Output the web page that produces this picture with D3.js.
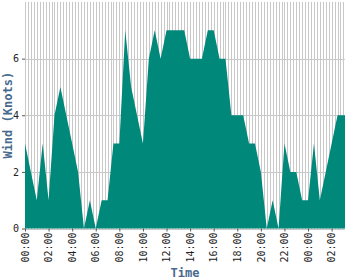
<!DOCTYPE html>
<html>
<head>
<meta charset="utf-8">
<script src="https://cdn.jsdelivr.net/npm/d3@7"></script>
<style>
  body { margin: 0; background: #fff; }
  .tick text { font-family: "DejaVu Sans Mono", monospace; font-size: 10px; fill: #222; }
  .tick line { stroke: #555; }
  .grid line { stroke: #c8c8c8; stroke-width: 1; shape-rendering: crispEdges; }
  .grid .domain { display: none; }
  .axis_title { font-family: "DejaVu Sans Mono", monospace; font-size: 12px; font-weight: bold; fill: #476a8e; }
</style>
</head>
<body>
<svg id="chart"></svg>
<script>
// half-hour readings starting 00:00, wind in knots
const times = [
  "00:00", "00:30", "01:00", "01:30", "02:00", "02:30", "03:00", "03:30",
  "04:00", "04:30", "05:00", "05:30", "06:00", "06:30", "07:00", "07:30",
  "08:00", "08:30", "09:00", "09:30", "10:00", "10:30", "11:00", "11:30",
  "12:00", "12:30", "13:00", "13:30", "14:00", "14:30", "15:00", "15:30",
  "16:00", "16:30", "17:00", "17:30", "18:00", "18:30", "19:00", "19:30",
  "20:00", "20:30", "21:00", "21:30", "22:00", "22:30", "23:00", "23:30",
  "24:00", "24:30", "25:00", "25:30", "26:00", "26:30", "27:00", "27:08"
];
const wind = [
  3, 2, 1, 3, 1, 4, 5, 4,
  3, 2, 0, 1, 0, 1, 1, 3,
  3, 7, 5, 4, 3, 6, 7, 6,
  7, 7, 7, 7, 6, 6, 6, 7,
  7, 6, 6, 4, 4, 4, 3, 3,
  2, 0, 1, 0, 3, 2, 2, 1,
  1, 3, 1, 2, 3, 4, 4, 4
];
const y_ticks = [0, 2, 4, 6];

const width = 350;
const height = 280;
const margin = { top: 2, right: 5, bottom: 51.5, left: 25 };

const base = new Date(2020, 0, 1, 0, 0);
const data = times.map(function (t, i) {
  const parts = t.split(":");
  return {
    time: new Date(base.getTime() + (+parts[0] * 60 + +parts[1]) * 60000),
    wind: wind[i],
  };
});

const svg = d3.select("#chart").attr("width", width).attr("height", height);

const x = d3
  .scaleTime()
  .domain(d3.extent(data, (d) => d.time))
  .range([margin.left, width - margin.right]);

const y = d3
  .scaleLinear()
  .domain([0, 8])
  .range([height - margin.bottom, margin.top]);

// vertical grid every 15 minutes
svg
  .append("g")
  .attr("class", "grid")
  .attr("transform", "translate(0," + (height - margin.bottom) + ")")
  .call(
    d3
      .axisBottom(x)
      .ticks(d3.timeMinute.every(15))
      .tickSize(-(height - margin.bottom - margin.top))
      .tickFormat("")
  );

// horizontal grid
svg
  .append("g")
  .attr("class", "grid")
  .attr("transform", "translate(" + margin.left + ",0)")
  .call(
    d3
      .axisLeft(y)
      .tickValues(y_ticks)
      .tickSize(-(width - margin.left - margin.right))
      .tickFormat("")
  );

// wind area
svg
  .append("path")
  .datum(data)
  .attr("fill", "#00897b")
  .attr(
    "d",
    d3
      .area()
      .x((d) => x(d.time))
      .y0(y(0))
      .y1((d) => y(d.wind))
  );

// x axis
const x_axis = svg
  .append("g")
  .attr("transform", "translate(0," + (height - margin.bottom) + ")")
  .call(
    d3
      .axisBottom(x)
      .ticks(d3.timeHour.every(2))
      .tickSize(3)
      .tickFormat(d3.timeFormat("%H:%M"))
  );
x_axis.select(".domain").remove();
x_axis
  .selectAll(".tick text")
  .attr("transform", "rotate(-90)")
  .attr("text-anchor", "end")
  .attr("x", -4)
  .attr("y", 0)
  .attr("dy", "0.32em");

// y axis
const y_axis = svg
  .append("g")
  .attr("transform", "translate(" + margin.left + ",0)")
  .call(d3.axisLeft(y).tickValues(y_ticks).tickSize(3));
y_axis.select(".domain").remove();

// axis titles
svg
  .append("text")
  .attr("class", "axis_title")
  .attr("text-anchor", "middle")
  .attr("x", (margin.left + width - margin.right) / 2)
  .attr("y", height - 3)
  .text("Time");

svg
  .append("text")
  .attr("class", "axis_title")
  .attr("text-anchor", "middle")
  .attr("transform", "translate(12," + (height - margin.bottom + margin.top) / 2 + ") rotate(-90)")
  .text("Wind (Knots)");
</script>
</body>
</html>
